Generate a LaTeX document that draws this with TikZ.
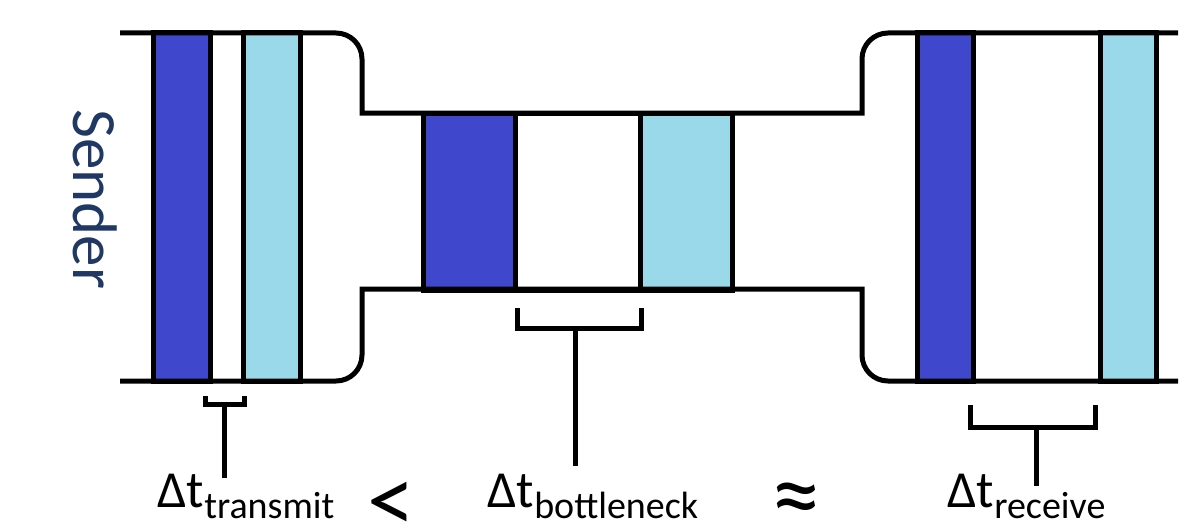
\documentclass[tikz,border=0pt]{standalone}
\usepackage{fontspec}
\setmainfont{Carlito}
\definecolor{indigo}{HTML}{3F48CC}
\definecolor{turq}{HTML}{99D9EA}
\definecolor{navy}{RGB}{32,56,100}
\begin{document}
\begin{tikzpicture}[x=1pt,y=-1pt,
  line width=5pt,
  pipe/.style={draw=black, line width=5pt, line join=miter},
  bar/.style={draw=black, line width=5pt, rectangle, inner sep=0pt},
  darkbar/.style={bar, fill=indigo},
  lightbar/.style={bar, fill=turq},
  whitebar/.style={bar, fill=white},
  brk/.style={draw=black, line width=5pt, line join=miter},
  lab/.style={anchor=base west, inner sep=0pt, text=black},
  rel/.style={anchor=center, inner sep=0pt, text=black}
]
\useasboundingbox (0,0) rectangle (1199,527);
% bars
\node[darkbar, minimum width=57pt, minimum height=348pt] (ld) at (181.5,207) {};
\node[lightbar, minimum width=57pt, minimum height=348pt] (ll) at (271.5,207) {};
\node[darkbar, minimum width=92pt, minimum height=177pt] (md) at (469,201.5) {};
\node[whitebar, minimum width=125pt, minimum height=177pt] (mw) at (577.5,201.5) {};
\node[lightbar, minimum width=92pt, minimum height=177pt] (ml) at (686,201.5) {};
\node[darkbar, minimum width=56pt, minimum height=348pt] (rd) at (945,207) {};
\node[lightbar, minimum width=56pt, minimum height=348pt] (rl) at (1128,207) {};
% pipe outline
\draw[pipe] (120,33) -- (336,33) .. controls (350.4,33) and (362,44.6) .. (362,59)
  -- (362,113) -- (862,113) -- (862,59) .. controls (862,44.6) and (873.6,33) .. (888,33)
  -- (1178,33);
\draw[pipe] (120,381) -- (336,381) .. controls (350.4,381) and (362,369.4) .. (362,355)
  -- (362,289) -- (862,289) -- (862,355) .. controls (862,369.4) and (873.6,381) .. (888,381)
  -- (1178,381);
% sender
\node[anchor=base west, inner sep=0pt, rotate=-90, text=navy,
  font=\fontsize{63}{63}\selectfont] (snd) at (73,107) {Sender};
% brackets
\draw[brk] (205,396) -- (205,404) -- (244,404) -- (244,396);
\draw[brk] (517,308) -- (517,328) -- (641,328) -- (641,308);
\draw[brk] (970,405) -- (970,427) -- (1095,427) -- (1095,405);
\coordinate (tb) at (224,404);
\coordinate (te) at (224,478);
\coordinate (bb) at (575,328);
\coordinate (be) at (575,466);
\coordinate (rb) at (1036,427);
\coordinate (re) at (1036,486);
\draw[brk] (tb) -- (te);
\draw[brk] (bb) -- (be);
\draw[brk] (rb) -- (re);
% labels
\node[lab] (ltr) at (155,507) {{\fontsize{52}{52}\selectfont Δt}\raisebox{-11pt}{\fontsize{38}{38}\selectfont transmit}};
\node[lab] (lbn) at (485,507) {{\fontsize{52}{52}\selectfont Δt}\raisebox{-11pt}{\fontsize{38}{38}\selectfont bottleneck}};
\node[lab] (lrc) at (945,507) {{\fontsize{52}{52}\selectfont Δt}\raisebox{-11pt}{\fontsize{38}{38}\selectfont receive}};
\node[rel, font=\fontsize{96}{96}\selectfont] (lt) at (391,507) {<};
\node[rel, font=\fontsize{100}{100}\selectfont] (ap) at (796,506) {≈};
\end{tikzpicture}
\end{document}
